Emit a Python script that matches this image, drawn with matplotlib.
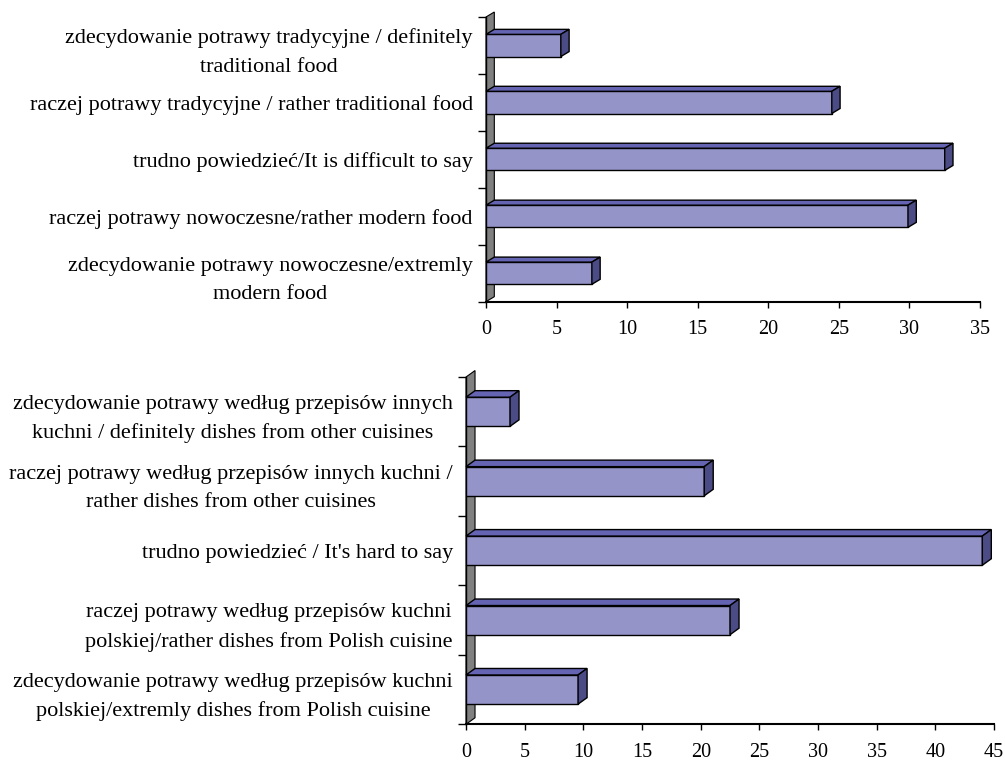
import numpy as np
import matplotlib
matplotlib.use("Agg")
import matplotlib.pyplot as plt
from matplotlib.patches import Polygon

plt.rcParams['font.family'] = ['Liberation Serif', 'DejaVu Serif']

# dane - wykres górny
top_labels = [
    "zdecydowanie potrawy tradycyjne / definitely\ntraditional food",
    "raczej potrawy tradycyjne / rather traditional food",
    "trudno powiedzieć/It is difficult to say",
    "raczej potrawy nowoczesne/rather modern food",
    "zdecydowanie potrawy nowoczesne/extremly\nmodern food",
]
top_values = [5.3, 24.5, 32.5, 29.9, 7.5]

# dane - wykres dolny
bottom_labels = [
    "zdecydowanie potrawy według przepisów innych\nkuchni / definitely dishes from other cuisines",
    "raczej potrawy według przepisów innych kuchni /\nrather dishes from other cuisines",
    "trudno powiedzieć / It's hard to say",
    "raczej potrawy według przepisów kuchni\npolskiej/rather dishes from Polish cuisine",
    "zdecydowanie potrawy według przepisów kuchni\npolskiej/extremly dishes from Polish cuisine",
]
bottom_values = [3.75, 20.3, 44.0, 22.5, 9.55]

front_c = '#9494C9'
top_c = '#6464B2'
side_c = '#4B4B85'
wall_c = '#808080'


def bar3d(ax, labels, values, xmax, height, dx_px, dy_px):
    n = len(values)
    ax.set_xlim(0, xmax)
    ax.set_ylim(n - 0.5, -0.5)
    bb = ax.get_window_extent()
    dx = dx_px * xmax / bb.width
    dy = -dy_px * n / bb.height  # oś odwrócona

    # ściana boczna
    wall = Polygon([(0, n - 0.5), (dx, n - 0.5 + dy), (dx, -0.5 + dy), (0, -0.5)],
                   closed=True, facecolor=wall_c, edgecolor='black', lw=0.8,
                   zorder=1, clip_on=False)
    ax.add_patch(wall)

    ys = np.arange(n)
    ax.barh(ys, values, height=height, color=front_c, edgecolor='black',
            lw=1.0, zorder=3)
    for y, v in zip(ys, values):
        yt = y - height / 2
        yb = y + height / 2
        top = Polygon([(0, yt), (v, yt), (v + dx, yt + dy), (dx, yt + dy)],
                      closed=True, facecolor=top_c, edgecolor='black', lw=1.0,
                      zorder=3, clip_on=False)
        side = Polygon([(v, yt), (v + dx, yt + dy), (v + dx, yb + dy), (v, yb)],
                       closed=True, facecolor=side_c, edgecolor='black', lw=1.0,
                       zorder=3, clip_on=False)
        ax.add_patch(top)
        ax.add_patch(side)

    ax.set_yticks(np.arange(n + 1) - 0.5)
    ax.set_yticklabels([])
    ax.set_yticks(ys, minor=True)
    ax.set_yticklabels(labels, minor=True, fontsize=16, ha='right',
                       multialignment='center', linespacing=1.65)
    ax.tick_params(axis='y', which='major', length=5.8, width=1.0, direction='out')
    ax.tick_params(axis='y', which='minor', length=0, pad=9.5)
    ax.set_xticks(np.arange(0, xmax + 1, 5))
    ax.tick_params(axis='x', length=4.3, width=1.0, direction='out', labelsize=14.5, pad=9)
    ax.spines['top'].set_visible(False)
    ax.spines['right'].set_visible(False)
    ax.spines['left'].set_linewidth(1.0)
    ax.spines['bottom'].set_linewidth(1.5)


fig = plt.figure(figsize=(10.05, 7.62), dpi=100)
ax1 = fig.add_axes([0.4836, 0.6041, 0.4915, 0.3736])
ax2 = fig.add_axes([0.4637, 0.0495, 0.5254, 0.4557])

bar3d(ax1, top_labels, top_values, 35, 0.39, 8.3, 5.0)
bar3d(ax2, bottom_labels, bottom_values, 45, 0.42, 9.0, 6.5)

fig.savefig('out.png', dpi=100)
